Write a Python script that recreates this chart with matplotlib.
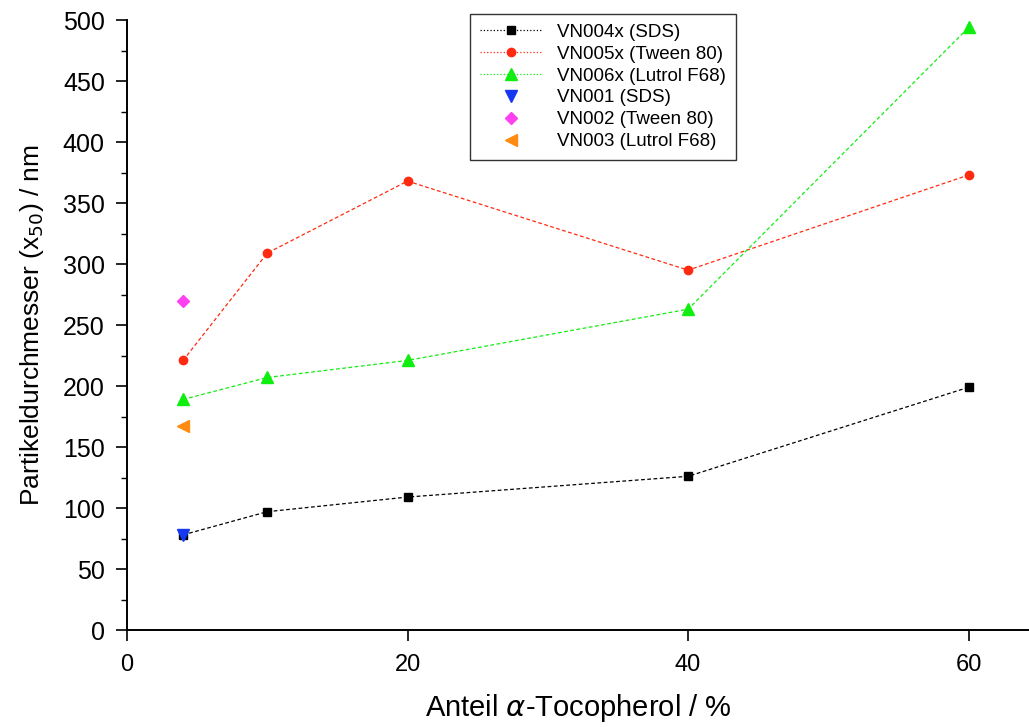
import matplotlib
matplotlib.use("Agg")
import matplotlib.pyplot as plt
from matplotlib.ticker import MultipleLocator

plt.rcParams['font.family'] = ['Liberation Sans', 'DejaVu Sans']

# Anteil alpha-Tocopherol / %
anteil = [4, 10, 20, 40, 60]

# x50 in nm
vn004x_sds = [78, 97, 109, 126, 199]
vn005x_tween = [221, 309, 368, 295, 373]
vn006x_lutrol = [189, 207, 221, 263, 494]

# Referenzen ohne Tocopherol-Reihe (bei 4 %)
ref_x = [4]
vn001_sds = [78]
vn002_tween = [270]
vn003_lutrol = [167]

fig = plt.figure(figsize=(10.29, 7.27), dpi=100)
ax = fig.add_axes([0.1234, 0.1334, 0.8766, 0.839])

dash = (0, (3, 2))
ax.plot(anteil, vn004x_sds, color="black", ls=dash, lw=0.9, marker="s", ms=6,
        label="VN004x (SDS)")
ax.plot(anteil, vn005x_tween, color="#ff2a10", ls=dash, lw=0.9, marker="o", ms=6,
        label="VN005x (Tween 80)")
ax.plot(anteil, vn006x_lutrol, color="#10ee10", ls=dash, lw=0.9, marker="^", ms=8,
        label="VN006x (Lutrol F68)")
ax.plot(ref_x, vn001_sds, color="#1538f0", ls="none", marker="v", ms=8,
        label="VN001 (SDS)")
ax.plot(ref_x, vn002_tween, color="#ff40f0", ls="none", marker="D", ms=6,
        label="VN002 (Tween 80)")
ax.plot(ref_x, vn003_lutrol, color="#ff8c10", ls="none", marker="<", ms=8,
        label="VN003 (Lutrol F68)")

ax.set_xlim(0, 64.3)
ax.set_ylim(0, 500)
ax.xaxis.set_major_locator(MultipleLocator(20))
ax.yaxis.set_major_locator(MultipleLocator(50))
ax.yaxis.set_minor_locator(MultipleLocator(25))

for s in ["top", "right"]:
    ax.spines[s].set_visible(False)
for s in ["left", "bottom"]:
    ax.spines[s].set_linewidth(1.4)

ax.tick_params(axis="y", which="major", length=8, width=1.2, pad=8, labelsize=18)
ax.tick_params(axis="y", which="minor", length=4, width=1.0)
ax.tick_params(axis="x", which="major", length=8, width=1.2, pad=9, labelsize=17)

ax.set_xlabel(r"Anteil $\alpha$-Tocopherol / %", fontsize=21, labelpad=12)
ax.set_ylabel(r"Partikeldurchmesser (x$_{50}$) / nm", fontsize=19, labelpad=12)

leg = ax.legend(loc="upper left", bbox_to_anchor=(0.370, 1.026), fontsize=13.5,
                frameon=True, fancybox=False, edgecolor="black",
                labelspacing=0.25, handlelength=3.3, borderpad=0.55,
                handletextpad=0.8)
leg.get_frame().set_linewidth(1.0)
for h in leg.get_lines()[:3]:
    h.set_linestyle(":")

fig.savefig("out.png", dpi=100)
